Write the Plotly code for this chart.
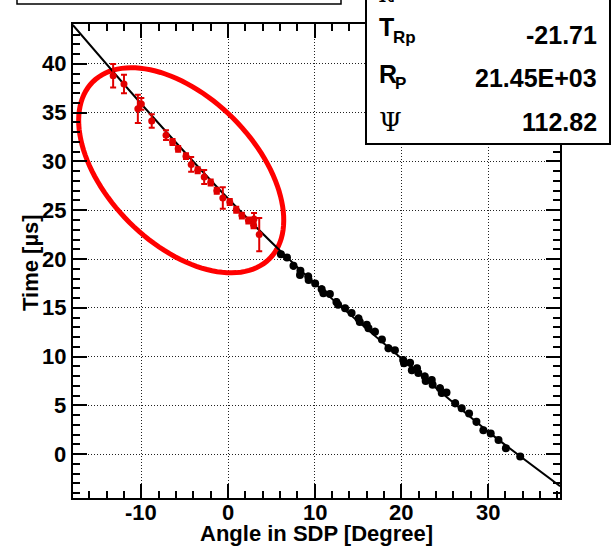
import numpy as np
import plotly.graph_objects as go

# ---- fitted points inside the highlighted region (red) ----
red_angle = [-13.25, -12.0, -10.4, -10.0, -8.8, -7.15, -6.4, -5.75, -4.85, -4.25, -3.5,
             -2.75, -2.0, -1.3, -0.6, 0.2, 0.95, 1.6, 2.35, 2.95, 3.0, 3.6]
red_time = [38.8, 37.95, 35.4, 35.9, 34.15, 32.7, 32.0, 31.3, 30.55, 29.7, 29.1,
            28.4, 27.85, 27.0, 26.25, 25.85, 25.05, 24.45, 23.95, 23.45, 24.1, 22.5]
red_err = [1.2, 0.95, 1.45, 0.6, 0.7, 0.5, 0.3, 0.3, 0.3, 0.75, 0.3,
           0.72, 0.3, 0.3, 1.1, 0.3, 0.3, 0.3, 0.3, 0.3, 0.63, 1.7]

# ---- remaining pixel times (black) ----
blk_angle = [6.1, 6.8, 7.55, 8.35, 8.3, 9.25, 9.3, 10.05, 10.8, 11.0, 11.75, 12.5, 12.7,
             13.5, 14.25, 15.05, 15.2, 16.0, 16.2, 16.95, 17.75, 18.5, 19.25, 20.2, 20.3,
             21.0, 21.2, 21.8, 21.95, 22.7, 22.8, 23.5, 23.6, 24.45, 24.65, 25.2, 26.2,
             26.95, 27.8, 28.65, 29.45, 30.3, 31.2, 32.05, 33.7]
blk_time = [20.5, 20.15, 19.3, 18.8, 18.35, 18.2, 17.85, 17.5, 16.9, 16.5, 16.4, 15.6, 15.3,
            14.95, 14.45, 13.9, 13.55, 13.25, 12.9, 12.55, 11.75, 10.85, 10.65, 9.65, 9.3,
            9.35, 8.6, 8.8, 8.3, 7.95, 7.5, 7.6, 7.1, 6.75, 6.25, 6.3, 5.2,
            4.7, 4.15, 3.3, 2.45, 2.1, 1.45, 0.6, -0.25]
blk_err = [0.35, 0.3, 0.4, 0.35, 0.3, 0.4, 0.3, 0.35, 0.4, 0.3, 0.35, 0.4, 0.3,
           0.35, 0.35, 0.4, 0.3, 0.35, 0.3, 0.4, 0.35, 0.4, 0.3, 0.4, 0.3,
           0.35, 0.4, 0.35, 0.3, 0.4, 0.3, 0.35, 0.3, 0.4, 0.35, 0.3, 0.4,
           0.35, 0.3, 0.4, 0.35, 0.3, 0.3, 0.3, 0.3]

# ---- fitted time-vs-angle curve ----
fit_angle = [-17.9, -10.0, 0.0, 10.0, 20.0, 30.0, 38.3]
fit_time = [44.0, 35.9, 26.2, 17.5, 9.8, 2.3, -3.3]

# ---- fit results ----
par_names = ["T", "R", "Ψ"]
par_subs = ["Rp", "P", ""]
par_values = ["-21.71", "21.45E+03", "112.82"]

x_ticks = [-10, 0, 10, 20, 30]
y_ticks = [0, 5, 10, 15, 20, 25, 30, 35, 40]

W, H = 612, 546
ML, MR, MT, MB = 73, 52, 24, 48
XR = [-17.88, 38.29]
YR = [-4.51, 44.1]
PW, PH = W - ML - MR, H - MT - MB
sx = PW / (XR[1] - XR[0])   # px per degree
sy = PH / (YR[1] - YR[0])   # px per microsecond


def px(xp):
    return (xp - ML) / PW


def py(yp):
    return (H - MB - yp) / PH


FONT = "Liberation Sans"
label_font = dict(family=FONT, size=22, color="black", weight="bold")

fig = go.Figure()

fig.add_trace(go.Scatter(
    x=fit_angle, y=fit_time, mode="lines",
    line=dict(color="black", width=2, shape="spline", smoothing=0.8),
    hoverinfo="skip", showlegend=False))

fig.add_trace(go.Scatter(
    x=blk_angle, y=blk_time, mode="markers",
    marker=dict(color="black", size=8),
    error_y=dict(type="data", array=blk_err, color="black", thickness=2.5, width=0),
    showlegend=False))

fig.add_trace(go.Scatter(
    x=red_angle, y=red_time, mode="markers",
    marker=dict(color="#e00000", size=7),
    error_y=dict(type="data", array=red_err, color="#e00000", thickness=2, width=3),
    showlegend=False))

# tilted ellipse around the red points (semi-axes given in screen pixels)
ell_cx, ell_cy = -5.4, 29.1
ell_a, ell_b, ell_tilt = 125.0, 73.5, np.radians(45)
t = np.linspace(0, 2 * np.pi, 121)
dxp = ell_a * np.cos(t) * np.cos(ell_tilt) - ell_b * np.sin(t) * np.sin(ell_tilt)
dyp = ell_a * np.cos(t) * np.sin(ell_tilt) + ell_b * np.sin(t) * np.cos(ell_tilt)
ex = ell_cx + dxp / sx
ey = ell_cy - dyp / sy
path = "M " + " L ".join(f"{a:.4f},{b:.4f}" for a, b in zip(ex, ey)) + " Z"
fig.add_shape(type="path", path=path, xref="x", yref="y",
              line=dict(color="#ff0000", width=5), layer="between")

# boxes along the top
fig.add_shape(type="rect", xref="paper", yref="paper",
              x0=px(17), x1=px(341), y0=py(4), y1=py(-20),
              line=dict(color="black", width=1.5), fillcolor="white", layer="above")
fig.add_shape(type="rect", xref="paper", yref="paper",
              x0=px(366), x1=px(610), y0=py(144), y1=py(-20),
              line=dict(color="black", width=2), fillcolor="white", layer="above")

ann = []
bold = dict(family=FONT, size=25, color="black", weight="bold")
sub = dict(family=FONT, size=17, color="black", weight="bold")
serif = dict(family="DejaVu Serif", size=26, color="black")

row_name_y = [27, 74, 122]
row_sub = [(390.5, 38), (393, 83.5), None]
row_val_y = [34.5, 77.5, 122.5]
for i in range(3):
    ann.append(dict(x=px(376.5), y=py(row_name_y[i]), xref="paper", yref="paper",
                    text=par_names[i], showarrow=False, xanchor="left", yanchor="middle",
                    font=serif if par_names[i] == "Ψ" else bold))
    if row_sub[i] is not None:
        ann.append(dict(x=px(row_sub[i][0]), y=py(row_sub[i][1]), xref="paper", yref="paper",
                        text=par_subs[i], showarrow=False, xanchor="left", yanchor="middle",
                        font=sub))
    ann.append(dict(x=px(598.5), y=py(row_val_y[i]), xref="paper", yref="paper",
                    text=par_values[i], showarrow=False, xanchor="right", yanchor="middle",
                    font=bold))
# first row, mostly above the page edge
ann.append(dict(x=px(377), y=py(-12), xref="paper", yref="paper", text="χ",
                showarrow=False, xanchor="left", yanchor="middle", font=serif))

# tick labels placed close to the frame
for v in x_ticks:
    ann.append(dict(x=v, y=py(512), xref="x", yref="paper", text=str(v),
                    showarrow=False, xanchor="center", yanchor="middle", font=label_font))
for v in y_ticks:
    ann.append(dict(x=px(68), y=v, xref="paper", yref="y", text=str(v),
                    showarrow=False, xanchor="right", yanchor="middle", font=label_font))

# axis titles
ann.append(dict(x=0.5, y=py(533), xref="paper", yref="paper",
                text="Angle in SDP [Degree]", showarrow=False,
                xanchor="center", yanchor="middle", font=label_font))
ann.append(dict(x=px(30), y=py(263), xref="paper", yref="paper",
                text="Time [µs]", showarrow=False, textangle=-90,
                xanchor="center", yanchor="middle", font=label_font))

axis_common = dict(
    showline=True, linecolor="black", linewidth=2, mirror="ticks",
    ticks="inside", ticklen=14, tickwidth=2, tickcolor="black",
    showgrid=True, gridcolor="#222222", gridwidth=1, griddash="1px,2px",
    zeroline=False, showticklabels=False,
)

fig.update_xaxes(range=XR, tickmode="array", tickvals=x_ticks,
                 minor=dict(dtick=2, tick0=0, ticks="inside", ticklen=7, tickwidth=2,
                            tickcolor="black", showgrid=False),
                 **axis_common)
fig.update_yaxes(range=YR, tickmode="array", tickvals=y_ticks,
                 minor=dict(dtick=1, tick0=0, ticks="inside", ticklen=7, tickwidth=2,
                            tickcolor="black", showgrid=False),
                 **axis_common)

fig.update_layout(
    width=W, height=H,
    margin=dict(l=ML, r=MR, t=MT, b=MB, autoexpand=False),
    paper_bgcolor="white", plot_bgcolor="white",
    annotations=ann, showlegend=False,
)

fig.write_html("out.html", config={"displayModeBar": False})
